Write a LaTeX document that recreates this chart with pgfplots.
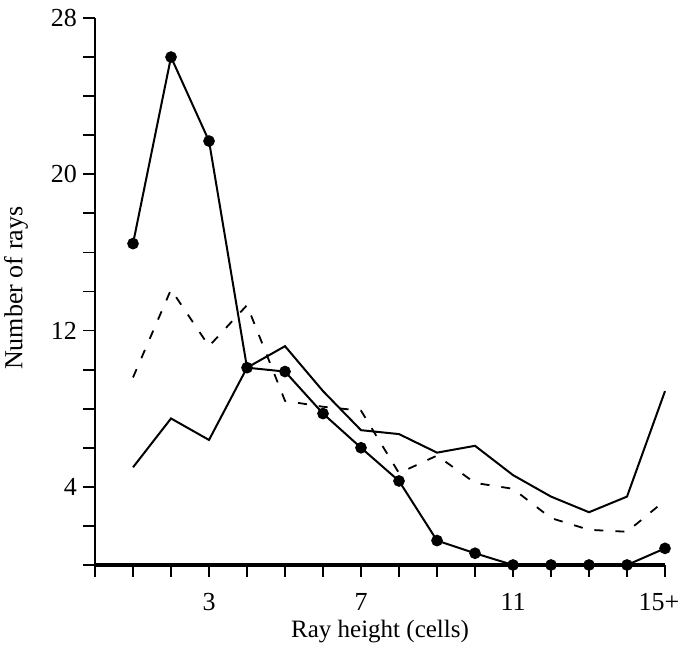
\documentclass[border=0pt]{standalone}
\usepackage{fontspec}
\setmainfont{Liberation Serif}
\usepackage{pgfplots}
\pgfplotsset{compat=1.18}
\begin{document}
\begin{tikzpicture}
\begin{axis}[
  scale only axis, width=285pt, height=273.5pt,
  xmin=0, xmax=15, ymin=0, ymax=28,
  axis x line*=bottom, axis y line*=left,
  x axis line style={line width=1.6pt},
  y axis line style={line width=1.1pt},
  xtick={3,7,11}, xticklabels={3,7,11},
  extra x ticks={15}, extra x tick labels={15+},
  extra x tick style={xticklabel style={xshift=-3pt}},
  minor xtick={0,1,...,15},
  ytick={4,12,20,28}, minor ytick={0,2,...,28},
  tick align=outside, major tick length=6pt, minor tick length=6pt,
  every tick/.style={black, line width=0.9pt},
  /pgf/number format/assume math mode=true,
  ticklabel style={font=\fontsize{13}{15}\selectfont},
  xticklabel style={yshift=-4.5pt},
  yticklabel style={xshift=0.5pt},
  xlabel={Ray height (cells)}, ylabel={Number of rays},
  xlabel style={font=\fontsize{12.5}{15}\selectfont, at={(axis description cs:0.5,-0.1225)}, anchor=center},
  ylabel style={font=\fontsize{13}{15}\selectfont, at={(axis description cs:-0.1386,0.506)}, anchor=center},
  clip=false,
]
\addplot[black, line width=1pt, mark=*, mark size=2.4pt] coordinates {
(1,16.45) (2,26.0) (3,21.7) (4,10.1) (5,9.9) (6,7.75) (7,6.0) (8,4.3)
(9,1.25) (10,0.6) (11,0) (12,0) (13,0) (14,0) (15,0.85)};
\addplot[black, line width=1pt] coordinates {
(1,5.0) (2,7.5) (3,6.4) (4,10.1) (5,11.2) (6,8.9) (7,6.9) (8,6.7)
(9,5.75) (10,6.1) (11,4.6) (12,3.5) (13,2.7) (14,3.5) (15,8.9)};
\addplot[black, line width=0.9pt, dash pattern=on 4.5pt off 6pt] coordinates {
(1,9.6) (2,14.1) (3,11.2) (4,13.3) (5,8.4) (6,8.1) (7,7.9) (8,4.7)
(9,5.6) (10,4.2) (11,3.9) (12,2.4) (13,1.8) (14,1.7) (15,3.3)};
\coordinate (bbsw) at (rel axis cs:-0.1667,-0.1499);
\coordinate (bbne) at (rel axis cs:1.0298,1.0329);
\end{axis}
\pgfresetboundingbox
\path (bbsw) rectangle (bbne);
\end{tikzpicture}
\end{document}
